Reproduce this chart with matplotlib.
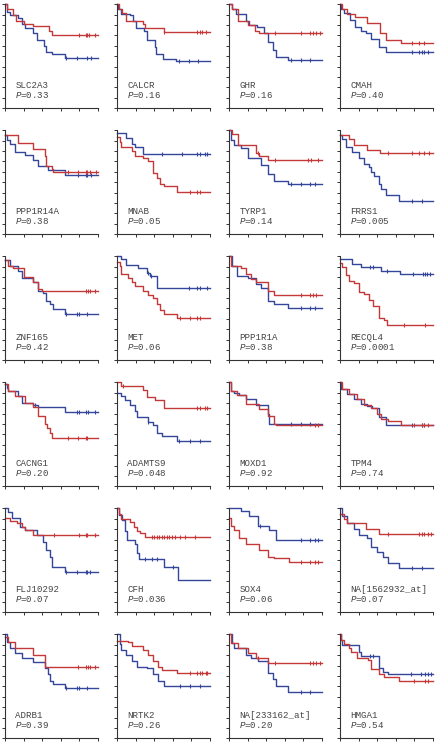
import numpy as np
import matplotlib.pyplot as plt

plt.rcParams['mathtext.fontset'] = 'custom'
plt.rcParams['mathtext.rm'] = 'Liberation Mono'
plt.rcParams['mathtext.it'] = 'Liberation Mono:italic'

genes = ['SLC2A3', 'CALCR', 'GHR', 'CMAH',
         'PPP1R14A', 'MNAB', 'TYRP1', 'FRRS1',
         'ZNF165', 'MET', 'PPP1R1A', 'RECQL4',
         'CACNG1', 'ADAMTS9', 'MOXD1', 'TPM4',
         'FLJ10292', 'CFH', 'SOX4', 'NA[1562932_at]',
         'ADRB1', 'NRTK2', 'NA[233162_at]', 'HMGA1']
pvals = ['0.33', '0.16', '0.16', '0.40',
         '0.38', '0.05', '0.14', '0.005',
         '0.42', '0.06', '0.38', '0.0001',
         '0.20', '0.048', '0.92', '0.74',
         '0.07', '0.036', '0.06', '0.07',
         '0.39', '0.26', '0.20', '0.54']

# red group: event times, survival after each step, censor times
red_t = [
    [0, 1.8, 8.2, 11.8, 20.4, 30.4, 47.5, 50],
    [0, 2.2, 5.8, 9.4, 28.3, 30, 50],
    [0, 3.6, 9.4, 10, 19.9, 27.8, 32.5],
    [0, 2.5, 7.9, 15.8, 29.5, 43.2, 49.3, 65.5],
    [0, 14.3, 30.4, 42.9, 44.6, 50, 51.8],
    [0, 2.9, 4.7, 15.6, 19.2, 28.3, 33.7, 39.1, 42.8, 46.4, 50, 64.5],
    [0, 3.6, 9.7, 28.9, 32.5, 41.5],
    [0, 9.7, 15.1, 29.5, 43.2],
    [0, 3, 9, 20, 30, 36, 40],
    [0, 2.9, 4.7, 12, 15.6, 19.2, 28.3, 33.7, 39.1, 42.8, 46.4, 50, 64.5],
    [0, 1.8, 12.6, 18, 23.5, 28.9, 41.5, 48.7],
    [0, 2.5, 6.1, 9.7, 15.2, 20.6, 26, 31.4, 35, 42.2, 47.7, 50.5],
    [0, 3.6, 11, 21, 30, 36, 43, 45, 48, 51],
    [0, 4.7, 28.3, 31.9, 40.9, 50],
    [0, 1.8, 9, 18, 32.5, 41.5, 48.7, 50.5],
    [0, 2.5, 9.7, 18.7, 25.9, 33.1, 40.3, 43.9, 51.1, 65.5],
    [0, 5.4, 12.5, 17.9, 21.4, 30.4],
    [0, 1.8, 4.6, 14.3, 17.9, 21.4, 25, 30.4],
    [0, 1.8, 5.4, 10.8, 18, 32.5, 41.5, 48.7, 65],
    [0, 4.3, 7.9, 27.7, 42.1],
    [0, 3.6, 10.7, 30.4, 42.9],
    [0, 12, 15.6, 28.3, 33.7, 39.1, 44.6, 48.2, 64.5],
    [0, 1.8, 9.7, 19.9, 28.9, 41.5],
    [0, 1.4, 4.3, 9.7, 11.6, 18.8, 29.6, 33.2, 42.2, 47.7, 63.9],
]
red_s = [
    [1.0, 0.95, 0.90, 0.84, 0.81, 0.79, 0.74, 0.705],
    [1.0, 0.95, 0.92, 0.84, 0.81, 0.77, 0.73],
    [1.0, 0.95, 0.91, 0.84, 0.80, 0.74, 0.72],
    [1.0, 0.95, 0.91, 0.88, 0.82, 0.72, 0.66, 0.63],
    [0.95, 0.875, 0.82, 0.755, 0.66, 0.63, 0.60],
    [0.94, 0.89, 0.84, 0.80, 0.75, 0.73, 0.70, 0.59, 0.54, 0.48, 0.46, 0.41],
    [1.0, 0.96, 0.86, 0.78, 0.75, 0.71],
    [0.95, 0.92, 0.86, 0.81, 0.78],
    [0.96, 0.91, 0.89, 0.80, 0.75, 0.69, 0.67],
    [0.95, 0.91, 0.83, 0.79, 0.75, 0.71, 0.67, 0.63, 0.60, 0.54, 0.48, 0.45, 0.41],
    [1.0, 0.91, 0.89, 0.83, 0.78, 0.75, 0.67, 0.63],
    [0.94, 0.90, 0.82, 0.76, 0.74, 0.66, 0.64, 0.58, 0.52, 0.41, 0.39, 0.34],
    [0.98, 0.92, 0.87, 0.80, 0.76, 0.68, 0.60, 0.56, 0.51, 0.46],
    [1.0, 0.96, 0.93, 0.86, 0.83, 0.75],
    [1.0, 0.92, 0.88, 0.79, 0.74, 0.68, 0.60, 0.59],
    [1.0, 0.94, 0.89, 0.84, 0.78, 0.75, 0.70, 0.65, 0.63, 0.59],
    [0.91, 0.88, 0.86, 0.82, 0.79, 0.74],
    [1.0, 0.95, 0.90, 0.87, 0.82, 0.78, 0.76, 0.72],
    [0.91, 0.83, 0.79, 0.71, 0.66, 0.60, 0.53, 0.52, 0.48],
    [0.95, 0.90, 0.86, 0.80, 0.75],
    [0.97, 0.93, 0.87, 0.80, 0.685],
    [0.94, 0.93, 0.89, 0.85, 0.80, 0.74, 0.69, 0.66, 0.63],
    [1.0, 0.92, 0.87, 0.82, 0.77, 0.72],
    [1.0, 0.95, 0.91, 0.87, 0.83, 0.77, 0.75, 0.67, 0.62, 0.59, 0.555],
]
red_c = [
    [79.6, 86.8, 88.2, 90.4, 96.4],
    [50, 86.2, 89.1, 91.7, 95.3],
    [49.5, 77.6, 86.6, 90.3, 93.9, 97.5],
    [77, 85.3, 90.6],
    [67.9, 78.6, 86.8, 88.2, 91.8, 97.5],
    [78.3, 86.2, 89.1],
    [30.7, 49.5, 84.8, 88.4, 95.7],
    [51.1, 77, 85.3, 90.6, 96],
    [86.8, 89.3, 91.8, 96.4],
    [67.4, 78.3, 86.2, 89.1],
    [77.6, 86.6, 90.3, 93.9],
    [68.6, 91],
    [67.9, 78.6, 86.8, 88.2],
    [6.5, 86.2, 89.1, 94.2, 97.1],
    [92, 95.7],
    [79.9, 87.8, 90.6, 94.2],
    [52.5, 79.6, 86.8, 88.2, 96.4],
    [37.5, 40, 42.5, 45, 48, 51, 53.6, 56, 59, 62.5, 68, 73, 84],
    [77.6, 86.6, 92, 95.7],
    [51.1, 85.3, 87.8, 90.6, 94.2, 97.8],
    [78.6, 86.8, 89.3, 91.8, 96.4],
    [78.3, 86.2, 89.1, 91.7, 95.3, 97.1],
    [30.7, 49.5, 86.6, 90.3, 93.9, 97.5],
    [79.4, 91, 94.6],
]

# blue group
blue_t = [
    [0, 1.8, 5.4, 14.3, 17.9, 21.4, 30.4, 34.6, 42.1, 43.9, 51, 64.3],
    [0, 1.4, 4.3, 14.4, 17, 20.6, 28.9, 32.5, 40.4, 42.2, 49.5, 63.9],
    [0, 3.6, 7.2, 18, 21.7, 30, 37.9, 41.5, 46.9, 50.5, 63.9],
    [0, 1.4, 4.3, 10.8, 15.8, 22.3, 27.7, 33.1, 42.1, 49.3],
    [0, 2.5, 5.4, 10.7, 21.4, 30.4, 35.7, 46.4, 64.3],
    [0, 10.1, 15.6, 19.2, 28.3],
    [0, 1.8, 5.4, 12.6, 19.9, 34.3, 41.5, 48.7, 63.9],
    [0, 2.5, 6.1, 13.3, 20.5, 25.9, 31.3, 33.1, 36.7, 42.1, 43.9, 49.3, 63.7],
    [0, 5.4, 14.3, 17.9, 30.4, 35.7, 41.1, 43.9, 48.2, 51.1, 64.3],
    [0, 4.7, 9.4, 22.8, 31.9, 35.5, 42.8],
    [0, 3.6, 9, 19.9, 28.9, 34.3, 41.5, 48.7, 63.2],
    [0, 13.4, 22.4, 44, 65],
    [0, 1.8, 3.6, 14.3, 18, 30, 35, 64],
    [0, 4.7, 8.3, 13.8, 19.2, 21.7, 33.7, 39.1, 42.8, 48.2, 64.5],
    [0, 1.8, 5.4, 10.8, 18, 28.9, 41.5, 43.3],
    [0, 1.4, 7.9, 15.1, 22.3, 29.5, 34.9, 42.1, 49.3],
    [0, 3.6, 7.1, 16, 21.4, 33.9, 41.1, 44.6, 48.2, 51, 64.3],
    [0, 1.8, 5.4, 8.2, 10.7, 19, 21.4, 23.2, 50, 66],
    [0, 12.6, 21.6, 30.7, 43.3, 50.5],
    [0, 2.5, 7.9, 15.1, 20.5, 29.5, 33.1, 40.3, 45.7, 51.1, 63.7],
    [0, 1.8, 5.4, 10.7, 17.9, 30.4, 42.9, 46.4, 48.2, 51.1, 64.3],
    [0, 2.9, 4.7, 10.1, 15.6, 21, 31.9, 39.1, 44.6, 50],
    [0, 3.6, 5.4, 18, 23.5, 30.7, 41.5, 46.9, 50.5, 63.9],
    [0, 1.4, 2.5, 20.6, 22.4, 42.2, 45.8, 51.3],
]
blue_s = [
    [1.0, 0.93, 0.90, 0.865, 0.81, 0.77, 0.72, 0.66, 0.60, 0.545, 0.52, 0.48],
    [1.0, 0.95, 0.91, 0.90, 0.84, 0.77, 0.74, 0.66, 0.59, 0.52, 0.47, 0.455],
    [1.0, 0.95, 0.91, 0.84, 0.80, 0.78, 0.72, 0.64, 0.56, 0.49, 0.465],
    [1.0, 0.95, 0.92, 0.85, 0.78, 0.74, 0.72, 0.67, 0.59, 0.545],
    [0.95, 0.91, 0.87, 0.79, 0.76, 0.71, 0.66, 0.62, 0.57],
    [0.97, 0.93, 0.87, 0.84, 0.77],
    [1.0, 0.91, 0.86, 0.83, 0.73, 0.67, 0.58, 0.51, 0.48],
    [0.95, 0.92, 0.84, 0.79, 0.73, 0.68, 0.65, 0.60, 0.56, 0.48, 0.44, 0.38, 0.32],
    [0.96, 0.91, 0.86, 0.79, 0.75, 0.67, 0.65, 0.57, 0.54, 0.49, 0.45],
    [1.0, 0.97, 0.92, 0.89, 0.84, 0.81, 0.70],
    [1.0, 0.91, 0.81, 0.79, 0.73, 0.70, 0.57, 0.54, 0.50],
    [0.97, 0.93, 0.90, 0.86, 0.83],
    [0.98, 0.95, 0.92, 0.87, 0.80, 0.78, 0.76, 0.71],
    [0.90, 0.87, 0.83, 0.78, 0.72, 0.67, 0.62, 0.59, 0.51, 0.48, 0.44],
    [1.0, 0.92, 0.90, 0.88, 0.84, 0.78, 0.70, 0.60],
    [1.0, 0.94, 0.89, 0.84, 0.79, 0.77, 0.75, 0.67, 0.59],
    [1.0, 0.96, 0.91, 0.82, 0.79, 0.74, 0.68, 0.60, 0.53, 0.44, 0.39],
    [1.0, 0.94, 0.89, 0.78, 0.70, 0.66, 0.57, 0.51, 0.44, 0.31],
    [1.0, 0.975, 0.93, 0.83, 0.79, 0.70],
    [1.0, 0.93, 0.86, 0.80, 0.74, 0.71, 0.63, 0.58, 0.53, 0.47, 0.43],
    [1.0, 0.93, 0.87, 0.82, 0.77, 0.73, 0.68, 0.62, 0.55, 0.52, 0.48],
    [1.0, 0.91, 0.85, 0.80, 0.74, 0.69, 0.68, 0.62, 0.55, 0.50],
    [1.0, 0.92, 0.87, 0.80, 0.77, 0.74, 0.63, 0.57, 0.50, 0.45],
    [1.0, 0.95, 0.90, 0.83, 0.79, 0.68, 0.64, 0.615],
]
blue_c = [
    [66, 77.5, 88.2, 92.9],
    [66.4, 77.3, 87.4],
    [66.8, 77.6, 86.6],
    [77, 85.3, 87.8, 90.6, 94.2],
    [78.6, 86.8, 88.2, 92.9],
    [48.2, 69.9, 86.2, 89.1, 94.2, 97.1],
    [66.8, 77.6, 86.6, 92],
    [77, 87.8],
    [66, 77.5, 79.6, 88.2],
    [33, 37, 77.2, 86.2, 89.1, 97.1],
    [77.6, 86.6, 92],
    [32.5, 35, 50.5, 78.3, 89.2, 91.7, 93.9, 96.4],
    [32.1, 77.5, 79.6, 86.8, 89.3, 96.4],
    [33.7, 66.3, 78.3, 89.1],
    [66.8, 77.6, 86.6],
    [77, 87.8, 90.6],
    [66, 77.5, 86.8, 88.2, 91.1],
    [30.4, 37.5, 42.9, 60.7],
    [33.6, 77.6, 86.6, 92, 95.7],
    [77, 87.8],
    [66, 77.5, 79.6, 88.2],
    [68.1, 78.3, 89.1],
    [77.6, 86.6],
    [32.5, 35, 76.5, 86.6, 91.7, 94.6, 98.2],
]

RED = '#c4383a'
BLUE = '#34469a'
TEXT = '#444444'
W, H = 436, 748


def km_curve(ax, t, s, c, color):
    t = list(t) + [100]
    s = list(s) + [s[-1]]
    ax.step(t, s, where='post', color=color, lw=1.0, clip_on=False)
    idx = np.searchsorted(t, c, side='right') - 1
    ax.plot(c, np.array(s)[idx], ls='none', marker='|', ms=3.5,
            mew=0.8, color=color, clip_on=False)


fig = plt.figure(figsize=(W / 100, H / 100), dpi=100)
for i, gene in enumerate(genes):
    r, col = divmod(i, 4)
    left = [5, 117, 229, 340][col]
    top = 4.3 + 126 * r
    ax = fig.add_axes([left / W, 1 - (top + 104) / H, 93 / W, 104 / H])
    km_curve(ax, blue_t[i], blue_s[i], blue_c[i], BLUE)
    km_curve(ax, red_t[i], red_s[i], red_c[i], RED)
    ax.set_xlim(0, 100)
    ax.set_ylim(0, 1)
    ax.set_xticks(np.arange(0, 101, 20))
    ax.set_yticks(np.linspace(0, 1, 11))
    ax.set_xticklabels([])
    ax.set_yticklabels([])
    ax.tick_params(direction='out', length=2.5, width=0.7, color='#333333')
    for side in ['top', 'right']:
        ax.spines[side].set_visible(False)
    for side in ['left', 'bottom']:
        ax.spines[side].set_linewidth(0.8)
        ax.spines[side].set_color('#333333')
    ax.text(11, 0.215, gene, family='Liberation Mono', fontsize=6.6,
            color=TEXT, va='center')
    ax.text(11, 0.125, r'$\mathit{P}$=' + pvals[i], family='Liberation Mono',
            fontsize=6.6, color=TEXT, va='center')

fig.savefig('out.png', dpi=100)
